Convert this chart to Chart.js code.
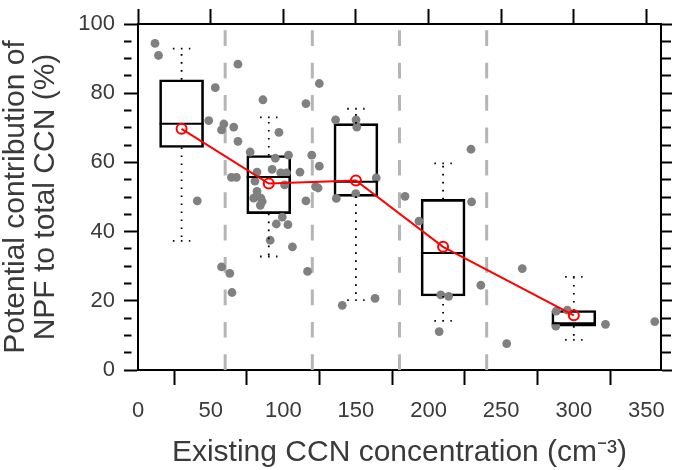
<!DOCTYPE html>
<html>
<head>
<meta charset="utf-8">
<script src="https://cdn.jsdelivr.net/npm/chart.js@4.4.1/dist/chart.umd.min.js"></script>
<style>
  html, body { margin: 0; padding: 0; background: #fff; }
  #wrap { width: 685px; height: 470px; }
</style>
</head>
<body>
<div id="wrap"><canvas id="npfChart"></canvas></div>
<script>
// Tick values
const xTickValues = [0, 50, 100, 150, 200, 250, 300, 350];
const yTickValues = [0, 5, 10, 15, 20, 25, 30, 35, 40, 45, 50, 55, 60, 65, 70, 75, 80, 85, 90, 95, 100];
const yLabelValues = [0, 20, 40, 60, 80, 100];

// Bin boundaries (grey dashed lines)
const binEdges = [60, 120, 180, 240];

// Box plot statistics per CCN bin
const boxX = [30, 90, 150, 210, 300];
const boxMax = [92.9, 73.0, 75.5, 59.7, 26.9];
const boxQ3 = [83.9, 62.0, 71.2, 49.3, 17.2];
const boxMedian = [71.2, 55.8, 54.4, 33.8, 13.5];
const boxQ1 = [64.3, 45.2, 50.2, 21.4, 12.7];
const boxMin = [37.3, 32.8, 20.2, 14.2, 8.7];
const meanY = [69.7, 53.9, 54.8, 35.6, 15.8];

// Individual observations
const obsX = [11.7, 14.1, 68.8, 53.2, 48.7, 59.1, 57.5, 65.9, 68.8, 77.2,
  64.3, 67.7, 40.8, 57.5, 63.2, 64.7, 86.0, 97.0, 124.8, 115.6,
  136.0, 150.1, 150.6, 103.6, 94.5, 81.9, 92.3, 98.2, 102.2, 111.5,
  119.6, 124.8, 122.2, 124.0, 100.9, 80.5, 81.9, 84.6, 79.6, 85.5,
  84.2, 115.6, 136.5, 149.9, 164.0, 99.3, 95.2, 103.2, 91.0, 106.3,
  116.7, 140.6, 163.2, 183.8, 229.2, 229.6, 193.4, 236.0, 208.4, 213.8,
  207.3, 264.5, 253.8, 287.9, 287.6, 321.8, 355.7, 295.5];
const obsY = [94.4, 90.9, 88.4, 81.6, 72.1, 71.1, 69.4, 70.2, 66.1, 63.0,
  55.7, 55.7, 48.9, 29.8, 27.9, 22.4, 78.1, 68.7, 82.8, 77.0,
  72.3, 72.3, 70.2, 62.1, 61.2, 57.2, 58.0, 57.0, 57.0, 57.2,
  62.1, 58.9, 53.0, 52.6, 53.5, 54.6, 51.6, 49.7, 49.7, 48.7,
  47.6, 48.9, 49.6, 51.0, 55.5, 44.2, 42.2, 42.0, 37.5, 35.6,
  28.5, 18.7, 20.7, 50.2, 63.8, 48.6, 43.0, 24.5, 21.7, 21.3,
  11.1, 29.3, 7.6, 17.0, 12.7, 13.2, 14.0, 17.3];

const textColor = "#3a3a3a";
const fontFamily = "'Liberation Sans', Arial, Helvetica, sans-serif";
const capHalf = 6;

// whiskers + caps as broken line segments
const whiskerData = [];
boxX.forEach((x, i) => {
  whiskerData.push({ x: x, y: boxQ3[i] }, { x: x, y: boxMax[i] }, { x: x, y: null });
  whiskerData.push({ x: x, y: boxQ1[i] }, { x: x, y: boxMin[i] }, { x: x, y: null });
  whiskerData.push({ x: x - capHalf, y: boxMax[i] }, { x: x + capHalf, y: boxMax[i] }, { x: x, y: null });
  whiskerData.push({ x: x - capHalf, y: boxMin[i] }, { x: x + capHalf, y: boxMin[i] }, { x: x, y: null });
});

const dividerSets = binEdges.map((v) => ({
  type: "line",
  data: [{ x: v, y: 0 }, { x: v, y: 100 }],
  borderColor: "#b5b5b5",
  borderWidth: 3,
  borderDash: [15.7, 16.7],
  pointRadius: 0,
  order: 6,
}));

const setTicks = (values) => (scale) => {
  scale.ticks = values.map((v) => ({ value: v }));
};
const isMajor = (c) => c.tick && yLabelValues.includes(c.tick.value);

const ctx = document.getElementById("npfChart").getContext("2d");
const npfChart = new Chart(ctx, {
  type: "scatter",
  data: {
    datasets: [
      ...dividerSets,
      {
        type: "bar",
        data: boxX.map((x, i) => ({ x: x, y: [boxQ1[i], boxQ3[i]] })),
        backgroundColor: "rgba(0,0,0,0)",
        borderColor: "#000",
        borderWidth: 2,
        borderSkipped: false,
        barThickness: 44,
        order: 5,
      },
      {
        type: "scatter",
        data: obsX.map((x, i) => ({ x: x, y: obsY[i] })),
        backgroundColor: "#808080",
        borderWidth: 0,
        pointRadius: 4.4,
        order: 4,
      },
      {
        type: "line",
        data: whiskerData,
        borderColor: "#000",
        borderWidth: 1.8,
        borderDash: [1.6, 6.4],
        pointRadius: 0,
        spanGaps: false,
        order: 3,
      },
      {
        type: "scatter",
        data: boxX.map((x, i) => ({ x: x, y: boxMedian[i] })),
        pointStyle: "line",
        pointRadius: 22,
        borderColor: "#000",
        borderWidth: 2,
        order: 2,
      },
      {
        type: "line",
        data: boxX.map((x, i) => ({ x: x, y: meanY[i] })),
        borderColor: "#ff0000",
        borderWidth: 2,
        pointRadius: 5,
        pointBorderWidth: 2,
        pointBorderColor: "#ff0000",
        pointBackgroundColor: "rgba(0,0,0,0)",
        order: 0,
      },
    ],
  },
  options: {
    responsive: true,
    maintainAspectRatio: false,
    animation: false,
    events: [],
    layout: { padding: 0 },
    plugins: {
      legend: { display: false },
      tooltip: { enabled: false },
    },
    scales: {
      x: {
        type: "linear",
        position: "bottom",
        min: 0,
        max: 360,
        offset: false,
        afterBuildTicks: setTicks(xTickValues),
        afterFit: (s) => { s.height = 100; },
        grid: { drawOnChartArea: false, tickLength: 15, tickWidth: 2, tickColor: "#000" },
        border: { color: "#000", width: 2 },
        ticks: {
          color: textColor,
          font: { size: 22, family: fontFamily },
          padding: 13,
          maxRotation: 0,
          autoSkip: false,
        },
        title: {
          display: true,
          text: "Existing CCN concentration (cm\u207B\u00B3)",
          color: textColor,
          font: { size: 30, family: fontFamily, lineHeight: 1.0 },
          padding: { top: 0, bottom: 2 },
        },
      },
      xTop: {
        type: "linear",
        position: "top",
        min: 0,
        max: 360,
        afterBuildTicks: setTicks(xTickValues),
        afterFit: (s) => { s.height = 15; },
        grid: { drawOnChartArea: false, tickLength: 15, tickWidth: 2, tickColor: "#000" },
        border: { color: "#000", width: 2 },
        ticks: { display: false },
      },
      y: {
        type: "linear",
        position: "left",
        min: 0,
        max: 100,
        afterBuildTicks: setTicks(yTickValues),
        afterFit: (s) => { s.width = 138; },
        grid: {
          drawOnChartArea: false,
          tickLength: 14,
          tickWidth: 2,
          tickColor: "#000",
          tickBorderDash: (c) => (isMajor(c) ? [] : [7.5, 40]),
        },
        border: { color: "#000", width: 2 },
        ticks: {
          color: textColor,
          font: { size: 22, family: fontFamily },
          padding: 9,
          autoSkip: false,
          callback: (v) => (yLabelValues.includes(v) ? String(v) : ""),
        },
        title: {
          display: true,
          text: ["Potential contribution of", "NPF to total CCN (%)"],
          color: textColor,
          font: { size: 30, family: fontFamily, lineHeight: 1.0 },
          padding: { top: 1, bottom: 0 },
        },
      },
      yRight: {
        type: "linear",
        position: "right",
        min: 0,
        max: 100,
        afterBuildTicks: setTicks(yTickValues),
        afterFit: (s) => { s.width = 16; },
        grid: {
          drawOnChartArea: false,
          tickLength: 11,
          tickWidth: 2,
          tickColor: "#000",
          tickBorderDash: (c) => (isMajor(c) ? [] : [9, 40]),
        },
        border: { color: "#000", width: 2 },
        ticks: { display: false },
      },
    },
  },
});
</script>
</body>
</html>
